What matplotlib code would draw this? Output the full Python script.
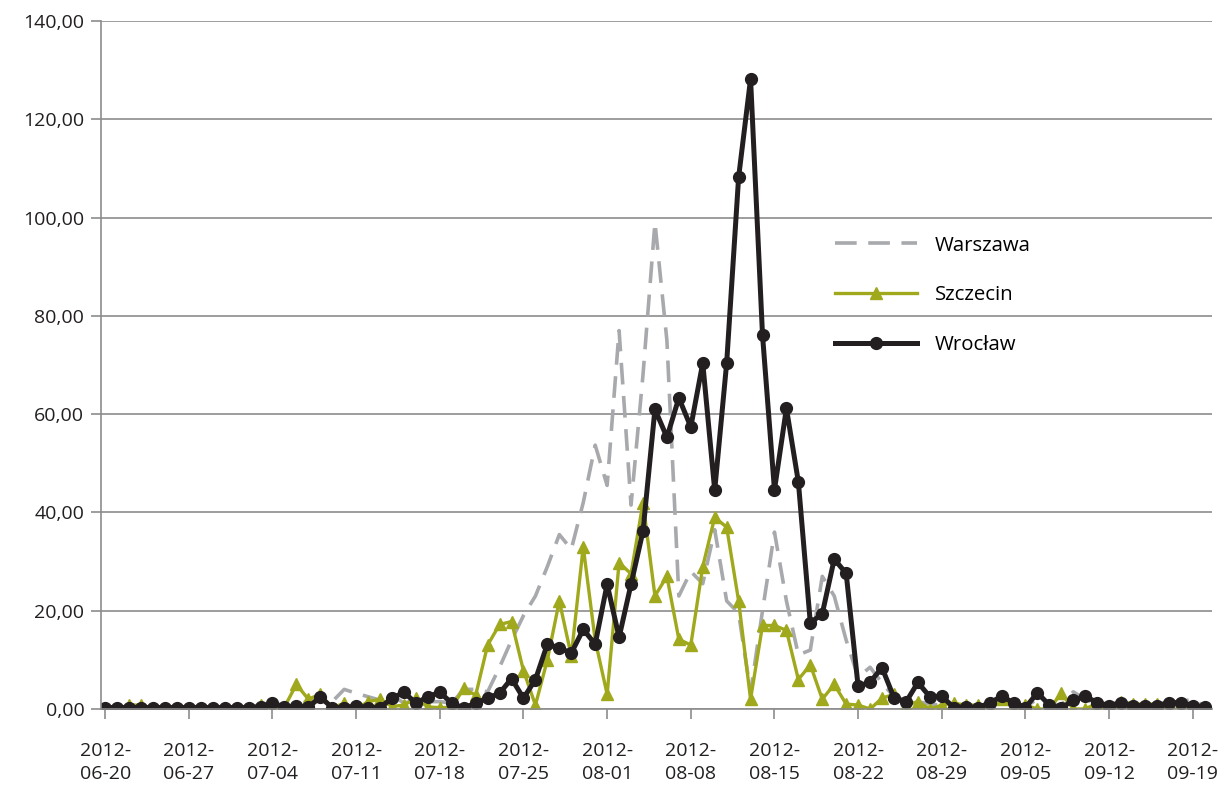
import matplotlib
matplotlib.use('Agg')
import matplotlib.pyplot as plt
import pandas as pd

plt.rcParams['font.family'] = ['Open Sans', 'DejaVu Sans']

# Daily dates, 2012-06-20 .. 2012-09-20
dates = pd.date_range('2012-06-20', periods=93, freq='D')

warszawa = [0.6, 0.2, 0.2, 0.2, 0.2, 0.2, 0.2, 0.2, 0.2, 0.2, 0.2, 0.2, 0.2, 0.2,
            0.5, 0.3, 1.0, 1.5, 2.2, 1.5, 4.0, 3.2, 2.5, 1.8, 2.8, 1.2, 1.8, 1.5,
            1.5, 1.2, 4.0, 4.0, 3.5, 8.5, 14.0, 19.0, 23.0, 29.0, 35.5, 32.5, 42.0,
            53.7, 45.5, 77.0, 41.5, 68.0, 99.0, 75.0, 23.0, 28.0, 25.5, 36.5, 22.0,
            19.5, 3.4, 20.0, 36.0, 22.0, 11.0, 12.0, 27.0, 23.0, 14.0, 6.5, 8.5,
            5.3, 2.5, 1.8, 1.5, 1.0, 0.8, 0.5, 0.5, 0.5, 0.8, 1.5, 1.0, 0.5, 2.0,
            1.0, 0.8, 3.5, 2.0, 1.0, 0.8, 1.0, 0.5, 0.5, 0.5, 1.0, 1.5, 2.0, 0.5]

szczecin = [0.0, 0.0, 0.8, 0.8, 0.0, 0.0, 0.0, 0.0, 0.0, 0.0, 0.0, 0.0, 0.0, 0.8,
            1.0, 0.4, 5.0, 2.0, 3.0, 0.2, 1.2, 0.0, 1.5, 2.0, 0.5, 0.8, 2.2, 0.4,
            0.3, 0.3, 4.2, 2.8, 13.0, 17.2, 17.8, 7.8, 0.8, 10.0, 22.0, 10.8, 33.0,
            14.0, 3.0, 29.8, 27.5, 42.0, 23.0, 27.0, 14.2, 13.0, 29.0, 39.0, 37.0,
            22.0, 2.0, 17.0, 17.0, 16.0, 6.0, 9.0, 2.0, 5.0, 1.0, 0.8, 0.0, 2.2,
            3.0, 0.8, 1.5, 0.0, 0.8, 1.2, 0.8, 0.8, 0.0, 2.0, 0.8, 0.8, 0.0, 0.0,
            3.2, 0.0, 0.0, 1.2, 0.0, 1.5, 1.0, 1.0, 1.0, 0.0, 0.0, 0.0, 0.0]

wroclaw = [0.3, 0.3, 0.3, 0.3, 0.3, 0.3, 0.3, 0.3, 0.3, 0.3, 0.3, 0.3, 0.3, 0.5,
           1.2, 0.4, 0.6, 0.4, 2.4, 0.3, 0.3, 0.6, 0.3, 0.3, 2.2, 3.4, 1.2, 2.5,
           3.4, 1.2, 0.2, 1.2, 2.2, 3.2, 6.2, 2.2, 6.0, 13.2, 12.4, 11.4, 16.2,
           13.2, 25.4, 14.6, 25.4, 36.2, 61.0, 55.3, 63.3, 57.4, 70.4, 44.5, 70.4,
           108.2, 128.2, 76.1, 44.6, 61.2, 46.2, 17.5, 19.4, 30.5, 27.6, 4.6, 5.5,
           8.4, 2.3, 1.4, 5.4, 2.5, 2.6, 0.3, 0.5, 0.3, 1.2, 2.6, 1.3, 0.3, 3.3,
           0.8, 0.2, 1.8, 2.6, 1.3, 0.7, 1.3, 0.7, 0.7, 0.7, 1.3, 1.3, 0.7, 0.4]

x = list(range(len(dates)))

fig = plt.figure(figsize=(12.18, 7.85), dpi=100)
ax = fig.add_axes([0.0829, 0.0968, 0.9121, 0.8764])

ax.plot(x, warszawa, color='#A7A9AC', lw=2.6, dashes=(6, 3.2), label='Warszawa')
ax.plot(x, szczecin, color='#A0A81C', lw=2.4, marker='^', ms=8, label='Szczecin')
ax.plot(x, wroclaw, color='#231F20', lw=3.6, marker='o', ms=8.5, label='Wrocław')

ax.set_ylim(0, 140)
ax.set_xlim(-0.35, 92.6)
ax.set_yticks(range(0, 141, 20))
ax.set_yticklabels([f'{v},00' for v in range(0, 141, 20)])
ax.yaxis.grid(True, color='#8C8C8C', lw=1.2)
ax.set_axisbelow(True)

ax.set_xticks(x[::7])
ax.set_xticklabels([d.strftime('%Y-\n%m-%d') for d in dates[::7]], linespacing=1.3)

for s in ['top', 'right']:
    ax.spines[s].set_visible(False)
ax.spines['left'].set_color('#8C8C8C')
ax.spines['bottom'].set_color('#8C8C8C')
ax.spines['left'].set_linewidth(1.2)
ax.spines['bottom'].set_linewidth(1.2)
ax.tick_params(axis='both', colors='#8C8C8C', labelcolor='#231F20', labelsize=14,
               length=7, width=1.2)
ax.tick_params(axis='x', pad=17)
ax.tick_params(axis='y', pad=5)

fig.legend(loc='center left', bbox_to_anchor=(0.6855, 0.624), frameon=False,
           fontsize=14.7, handlelength=4.0, handletextpad=0.9, labelspacing=1.45,
           borderpad=0, borderaxespad=0)

fig.savefig('out.png', dpi=100)
